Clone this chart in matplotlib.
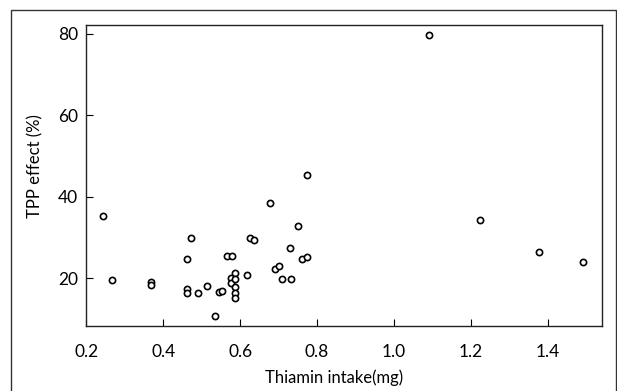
import numpy as np
import matplotlib
matplotlib.use("Agg")
import matplotlib.pyplot as plt
from matplotlib.patches import Rectangle

# thiamin intake (mg) vs TPP effect (%)
intake = [0.244, 0.266, 0.367, 0.367, 0.461, 0.461, 0.463, 0.473, 0.491, 0.513,
          0.534, 0.545, 0.554, 0.566, 0.578, 0.575, 0.575, 0.586, 0.586, 0.586,
          0.586, 0.586, 0.619, 0.625, 0.636, 0.678, 0.690, 0.700, 0.710, 0.730,
          0.731, 0.751, 0.760, 0.773, 0.773, 1.090, 1.223, 1.378, 1.492]
tpp = [35.3, 19.6, 19.1, 18.4, 17.4, 16.3, 24.7, 29.9, 16.5, 18.1,
       10.8, 16.7, 17.0, 25.4, 25.4, 20.1, 18.8, 21.4, 19.9, 17.9,
       16.3, 15.3, 20.8, 29.9, 29.4, 38.4, 22.2, 23.0, 19.8, 27.5,
       19.8, 32.8, 24.7, 25.3, 45.3, 79.6, 34.2, 26.4, 24.1]

xticks = [0.2, 0.4, 0.6, 0.8, 1.0, 1.2, 1.4]
xticklabels = ["0.2", "0.4", "0.6", "0.8", "1.0", "1.2", "1.4"]
yticks = [20, 40, 60, 80]

plt.rcParams["font.family"] = ["Lato", "DejaVu Sans"]

fig = plt.figure(figsize=(6.17, 3.91), dpi=100)
ax = fig.add_axes([0.140, 0.167, 0.835, 0.770])

ax.scatter(intake, tpp, s=20, facecolors="white", edgecolors="black",
           linewidths=1.2, zorder=3)

ax.set_xlim(0.2, 1.54)
ax.set_ylim(8.4, 82.2)
ax.set_xticks(xticks)
ax.set_xticklabels(xticklabels)
ax.set_yticks(yticks)
ax.tick_params(direction="in", length=5, width=0.8, labelsize=12.5)
ax.tick_params(axis="x", pad=13)
ax.tick_params(axis="y", pad=6)

for s in ax.spines.values():
    s.set_linewidth(1.0)
    s.set_color("#222222")

ax.set_xlabel("Thiamin intake(mg)", fontsize=12)
ax.xaxis.set_label_coords(0.48, -0.145)
ax.set_ylabel("TPP effect (%)", fontsize=12)
ax.yaxis.set_label_coords(-0.083, 0.53)

# outer frame of the scanned figure
frame = Rectangle((11 / 617, -0.05), (616 - 11) / 617, 1 - 10 / 391 + 0.05,
                  transform=fig.transFigure, fill=False, edgecolor="#333333",
                  linewidth=1.0, clip_on=False)
fig.patches.append(frame)

fig.savefig("out.png", dpi=100)
